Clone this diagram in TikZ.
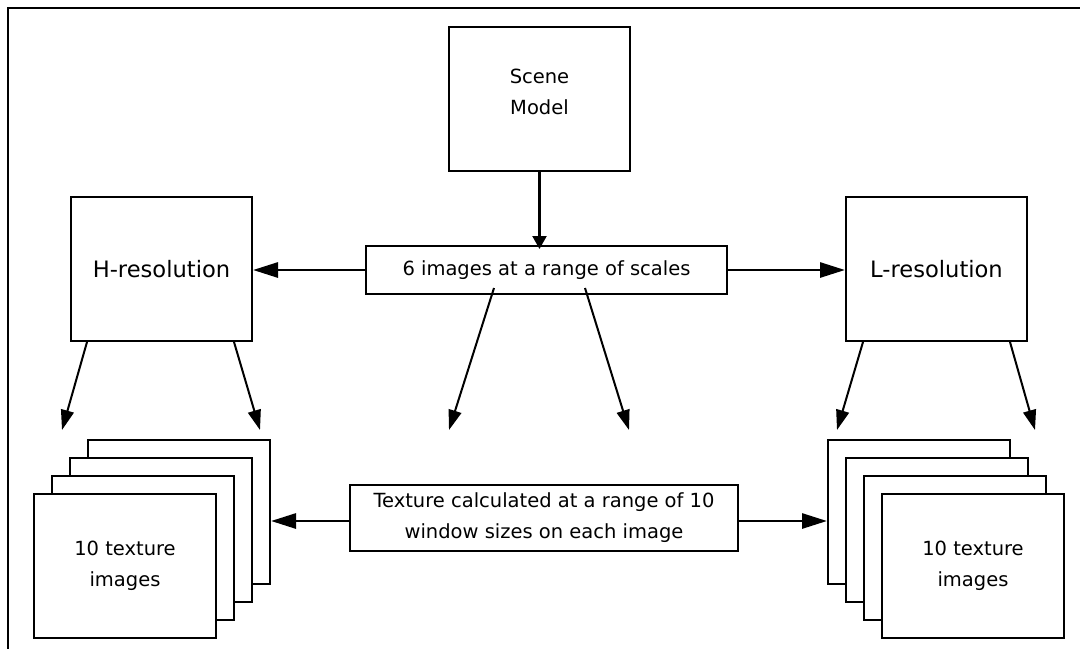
\documentclass[tikz,border=0pt]{standalone}
\usepackage{fontspec}
\setmainfont{DejaVu Sans}
\usetikzlibrary{arrows.meta,calc}
\begin{document}
\begin{tikzpicture}[x=1pt,y=-1pt,
  box/.style={draw=black, line width=2pt, fill=white, inner sep=0pt, align=center,
    font=\fontsize{19.5pt}{31pt}\selectfont},
  txt/.style={inner sep=0pt, align=center, font=\fontsize{19.5pt}{31pt}\selectfont},
  bigbox/.style={box, minimum width=181pt, minimum height=144pt,
    font=\fontsize{22.6pt}{27pt}\selectfont},
  sheet/.style={box, minimum width=182pt, minimum height=144pt},
  conn/.style={line width=2pt, -{Triangle[length=20pt,width=13pt]}},
  hconn/.style={line width=2.8pt, -{Triangle[length=25pt,width=15pt]}},
  vconn/.style={line width=2.2pt, -{Triangle[length=13pt,width=14pt]}}]
\useasboundingbox (0,0) rectangle (1080,649);
% frame
\draw[line width=2.4pt] (1080,8) -- (8,8) -- (8,649);
% top boxes
\node[box, minimum width=181pt, minimum height=144pt] (scene) at (539.5,99) {};
\node[txt] (scenetxt) at ([yshift=7pt]scene.center) {Scene\\Model};
\node[bigbox] (hres) at (161.5,269) {H-resolution};
\node[bigbox] (lres) at (936.5,269) {L-resolution};
\node[box, minimum width=361pt, minimum height=48pt] (six) at (546.5,270) {6 images at a range of scales};
\node[box, minimum width=388pt, minimum height=66pt] (tex) at (544,518) {Texture calculated at a range of 10\\window sizes on each image};
% left stack
\node[sheet] (l4) at (179,512) {};
\node[sheet] (l3) at (161,530) {};
\node[sheet] (l2) at (143,548) {};
\node[sheet] (l1) at (125,566) {10 texture\\images};
% right stack
\node[sheet] (r4) at (919,512) {};
\node[sheet] (r3) at (937,530) {};
\node[sheet] (r2) at (955,548) {};
\node[sheet] (r1) at (973,566) {10 texture\\images};
% free arrow ends
\coordinate (t1) at (62,430);
\coordinate (t2) at (260,430);
\coordinate (t3) at (449,430);
\coordinate (t4) at (629,430);
\coordinate (t5) at (837,430);
\coordinate (t6) at (1035,430);
% connectors
\draw[vconn] (scene.south) -- ([yshift=-4pt]scene.south |- six.north);
\draw[hconn] (six.west) -- (six.west -| hres.east);
\draw[hconn] (six.east) -- (six.east -| lres.west);
\draw[conn] ([xshift=17pt]hres.south west) -- (t1);
\draw[conn] ([xshift=-19pt]hres.south east) -- (t2);
\draw[conn] ([xshift=129pt,yshift=7pt]six.south west) -- (t3);
\draw[conn] ([xshift=-143pt,yshift=7pt]six.south east) -- (t4);
\draw[conn] ([xshift=18pt]lres.south west) -- (t5);
\draw[conn] ([xshift=-18pt]lres.south east) -- (t6);
\draw[hconn] ([yshift=-3pt]tex.west) -- ([yshift=-3pt]tex.west -| l4.east);
\draw[hconn] ([yshift=-3pt]tex.east) -- ([yshift=-3pt]tex.east -| r4.west);
\end{tikzpicture}
\end{document}
